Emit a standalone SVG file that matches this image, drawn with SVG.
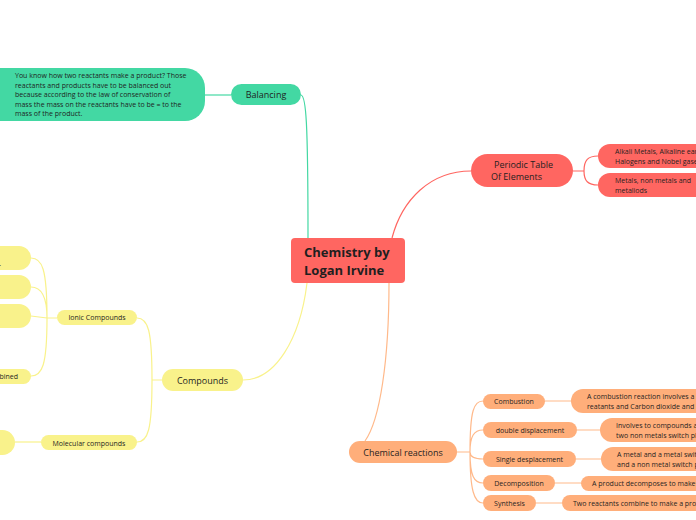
<svg xmlns="http://www.w3.org/2000/svg" width="696" height="520" viewBox="0 0 696 520">
<style>
text{font-family:"Open Sans","Noto Sans","DejaVu Sans",sans-serif;fill:#1f1f1f}
.t{fill:#43d8a3}.r{fill:#ff6661}.o{fill:#ffae7a}.y{fill:#f9f28b}
.c{fill:none;stroke-width:1.2}
.ct{stroke:#43d8a3}.cr{stroke:#ff6661}.co{stroke:#ffb98a}.cy{stroke:#f9f28b}
.s7{font-size:7px}.s65{font-size:7px}.s9{font-size:9px}
</style>
<rect width="696" height="520" fill="#ffffff"/>
<g id="connectors">
<path class="c ct" d="M205,95 L231,95"/>
<path class="c ct" d="M301,95 C306,96 308,120 308,238"/>
<path class="c cr" d="M392,238 C402,200 430,171 471,171"/>
<path class="c cr" d="M573,171 L584,171 M584,171 C584,160 588,156 598,156 M584,171 C584,181 588,185 598,185"/>
<path class="c co" d="M389,283 C389,360 380,420 365,441"/>
<path class="c co" d="M457,452 L470,452 M470,452 C470,410 474,401 483,401 M470,452 C470,436 474,430 483,430 M470,452 C470,456 474,459 483,459 M470,452 C470,476 474,483 483,483 M470,452 C470,490 474,503 483,503"/>
<path class="c co" d="M545,401 L571,401 M577,430 L600,430 M576,459 L601,459 M555,483 L581,483 M536,503 L562,503"/>
<path class="c cy" d="M307,283 C300,340 275,380 243,380"/>
<path class="c cy" d="M162,380 L152,380 M152,380 C152,330 148,318 137,318 M152,380 C152,430 148,442 137,442"/>
<path class="c cy" d="M57,318 L47,318 M47,318 C47,268 42,258 31,258 M47,318 C47,297 42,287 31,287 M47,318 L31,316 M47,318 C47,366 42,376 31,376"/>
<path class="c cy" d="M15,442 L41,442"/>
</g>
<g id="central">
<rect class="r" x="291" y="238" width="114" height="45" rx="4"/>
<text x="304" y="257" font-size="13" font-weight="bold">Chemistry by</text>
<text x="304" y="275" font-size="13" font-weight="bold">Logan Irvine</text>
</g>
<g id="balancing">
<rect class="t" x="231" y="84" width="70" height="21" rx="10.5"/>
<text x="266" y="98" class="s9" text-anchor="middle">Balancing</text>
</g>
<g id="balancing-desc">
<rect class="t" x="-20" y="68" width="225" height="53" rx="20"/>
<text class="s65" x="15" y="78">You know how two reactants make a product? Those</text>
<text class="s65" x="15" y="87.5">reactants and products have to be balanced out</text>
<text class="s65" x="15" y="97">because according to the law of conservation of</text>
<text class="s65" x="15" y="106.5">mass the mass on the reactants have to be = to the</text>
<text class="s65" x="15" y="116">mass of the product.</text>
</g>
<g id="periodic">
<rect class="r" x="471" y="154" width="102" height="33" rx="16.5"/>
<text class="s9" x="494" y="168">Periodic Table</text>
<text class="s9" x="491" y="180">Of Elements</text>
</g>
<g id="periodic-groups">
<rect class="r" x="598" y="144" width="130" height="24" rx="12"/>
<text class="s65" x="615" y="154">Alkali Metals, Alkaline earth metals,</text>
<text class="s65" x="615" y="164">Halogens and Nobel gases</text>
</g>
<g id="periodic-types">
<rect class="r" x="598" y="173" width="130" height="24" rx="12"/>
<text class="s65" x="615" y="183">Metals, non metals and</text>
<text class="s65" x="615" y="193"> metaliods</text>
</g>
<g id="chemical-reactions">
<rect class="o" x="349" y="441" width="108" height="22" rx="11"/>
<text class="s9" x="403" y="456" text-anchor="middle">Chemical reactions</text>
</g>
<g id="combustion">
<rect class="o" x="483" y="394" width="62" height="15" rx="7.5"/>
<text class="s65" x="514" y="404" text-anchor="middle">Combustion</text>
</g>
<g id="combustion-desc">
<rect class="o" x="571" y="389" width="160" height="24" rx="12"/>
<text class="s65" x="587" y="399">A combustion reaction involves a</text>
<text class="s65" x="587" y="409">reatants and Carbon dioxide and</text>
</g>
<g id="double">
<rect class="o" x="483" y="422" width="94" height="16" rx="8"/>
<text class="s65" x="530" y="433" text-anchor="middle">double displacement</text>
</g>
<g id="double-desc">
<rect class="o" x="600" y="418" width="130" height="24" rx="12"/>
<text class="s65" x="616" y="428">Involves to compounds and</text>
<text class="s65" x="616" y="438">two non metals switch places</text>
</g>
<g id="single">
<rect class="o" x="483" y="451" width="93" height="16" rx="8"/>
<text class="s65" x="529.5" y="462" text-anchor="middle">Single desplacement</text>
</g>
<g id="single-desc">
<rect class="o" x="601" y="447" width="130" height="24" rx="12"/>
<text class="s65" x="617" y="457">A metal and a metal switch</text>
<text class="s65" x="617" y="467">and a non metal switch places</text>
</g>
<g id="decomposition">
<rect class="o" x="483" y="475" width="72" height="16" rx="8"/>
<text class="s65" x="519" y="486" text-anchor="middle">Decomposition</text>
</g>
<g id="decomposition-desc">
<rect class="o" x="581" y="476" width="150" height="15" rx="7.5"/>
<text class="s65" x="592" y="486">A product decomposes to make reactants</text>
</g>
<g id="synthesis">
<rect class="o" x="483" y="495" width="53" height="16" rx="8"/>
<text class="s65" x="509.5" y="506" text-anchor="middle">Synthesis</text>
</g>
<g id="synthesis-desc">
<rect class="o" x="562" y="495" width="170" height="16" rx="8"/>
<text class="s65" x="573" y="506">Two reactants combine to make a product</text>
</g>
<g id="compounds">
<rect class="y" x="162" y="369" width="81" height="22" rx="11"/>
<text class="s9" x="202.5" y="384" text-anchor="middle">Compounds</text>
</g>
<g id="ionic">
<rect class="y" x="57" y="310" width="80" height="15" rx="7.5"/>
<text class="s65" x="97" y="320" text-anchor="middle">Ionic Compounds</text>
</g>
<g id="molecular">
<rect class="y" x="41" y="435" width="96" height="15" rx="7.5"/>
<text class="s65" x="89" y="445.5" text-anchor="middle">Molecular compounds</text>
</g>
<g id="ionic-1">
<rect class="y" x="-60" y="246" width="91" height="24" rx="12"/>
<text class="s65" x="1" y="266" text-anchor="end">l.</text>
</g>
<g id="ionic-2">
<rect class="y" x="-60" y="275" width="91" height="24" rx="12"/>
</g>
<g id="ionic-3">
<rect class="y" x="-60" y="304" width="91" height="24" rx="12"/>
</g>
<g id="ionic-4">
<rect class="y" x="-60" y="369" width="91" height="15" rx="7.5"/>
<text class="s65" x="18" y="379" text-anchor="end">combined</text>
</g>
<g id="molecular-1">
<rect class="y" x="-60" y="430" width="75" height="25" rx="12.5"/>
</g>
</svg>
